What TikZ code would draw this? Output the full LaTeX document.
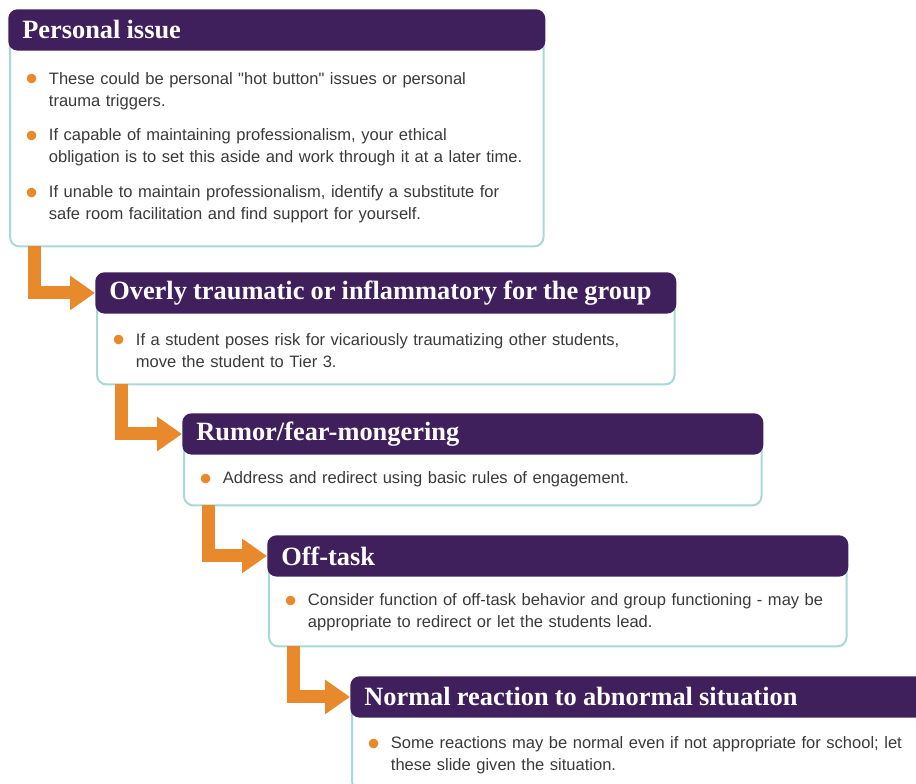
\documentclass[tikz,border=0pt]{standalone}
\usepackage{fontspec}
\setmainfont{Liberation Sans}
\newfontfamily\headfont{Liberation Serif}
\usetikzlibrary{positioning,arrows.meta,backgrounds}

\definecolor{headpurple}{HTML}{3F1F5C}
\definecolor{frameteal}{HTML}{A8D9D6}
\definecolor{floworange}{HTML}{E8892B}
\definecolor{bodygray}{HTML}{3A3A3A}

% heading kept on one line, with slightly tighter word spaces
\newcommand{\headline}[1]{\mbox{\spaceskip=4.6pt plus 1pt\relax #1}}
% one bullet point with a hanging second line
\newcommand{\dotitem}[1]{\par\hangindent=19pt\hangafter=1\noindent\makebox[19pt][l]{\hspace{1.5pt}\raisebox{-5pt}{\textcolor{floworange}{\fontsize{26pt}{0pt}\selectfont\textbullet}}}#1\par}

\tikzset{
  headbox/.style={fill=headpurple, rounded corners=7pt, anchor=north west, minimum height=31pt, inner xsep=10.5pt, align=left, text=white, font=\headfont\bfseries\fontsize{19.8pt}{22pt}\selectfont},
  bodybox/.style={inner xsep=10pt, inner ysep=0pt, align=left, text=bodygray, font=\fontsize{12.4pt}{16.5pt}\selectfont, execute at end node={\par\vspace{6pt}}},
  bodyframe/.style={draw=frameteal, line width=1.5pt, fill=white, rounded corners=7pt},
  flowarrow/.style={draw=floworange, line width=9.75pt, -{Triangle[length=18.75pt, width=24.75pt]}},
}

\begin{document}
\begin{tikzpicture}[x=0.75pt, y=-0.75pt]
\useasboundingbox (0,0) rectangle (916,783);

\node[headbox, text width=381.75pt] (hd1) at (8,9) {\headline{Personal issue}};
\node[headbox, text width=414.75pt] (hd2) at (95,272) {\headline{Overly traumatic or inflammatory for the group}};
\node[headbox, text width=414.75pt] (hd3) at (182,413) {\headline{Rumor/fear-mongering}};
\node[headbox, text width=414.75pt] (hd4) at (267,535) {\headline{Off-task}};
\node[headbox, text width=414.75pt] (hd5) at (350,676) {\headline{Normal reaction to abnormal situation}};

\node[bodybox, text width=379.75pt, minimum height=146.25pt, below right=0pt and 1.5pt of hd1.south west] (bd1) {%
\dotitem{These could be personal \textquotedbl hot button\textquotedbl{} issues or personal\newline trauma triggers.}\vspace{9.5pt}
\dotitem{If capable of maintaining professionalism, your ethical\newline obligation is to set this aside and work through it at a later time.}\vspace{9.5pt}
\dotitem{If unable to maintain professionalism, identify a substitute for\newline safe room facilitation and find support for yourself.}\vspace{3pt}};
\node[bodybox, text width=412.75pt, minimum height=52.5pt, below right=0pt and 1.5pt of hd2.south west] (bd2) {%
\dotitem{If a student poses risk for vicariously traumatizing other students,\newline move the student to Tier 3.}};
\node[bodybox, text width=412.75pt, minimum height=37.5pt, below right=0pt and 1.5pt of hd3.south west] (bd3) {%
\dotitem{Address and redirect using basic rules of engagement.}};
\node[bodybox, text width=412.75pt, minimum height=51.75pt, below right=0pt and 1.5pt of hd4.south west] (bd4) {%
\dotitem{Consider function of off-task behavior and group functioning - may be\newline appropriate to redirect or let the students lead.}};
\node[bodybox, text width=412.75pt, minimum height=54pt, below right=0pt and 1.5pt of hd5.south west] (bd5) {%
\dotitem{Some reactions may be normal even if not appropriate for school; let\newline these slide given the situation.}};

\begin{scope}[on background layer]
\foreach \b in {bd1,bd2,bd3,bd4,bd5}
  \draw[bodyframe] ([yshift=14pt]\b.north west) rectangle (\b.south east);
\end{scope}

\draw[flowarrow] ([xshift=18pt]bd1.south west) |- (hd2.west);
\draw[flowarrow] ([xshift=18pt]bd2.south west) |- (hd3.west);
\draw[flowarrow] ([xshift=18pt]bd3.south west) |- (hd4.west);
\draw[flowarrow] ([xshift=18pt]bd4.south west) |- (hd5.west);
\end{tikzpicture}
\end{document}
